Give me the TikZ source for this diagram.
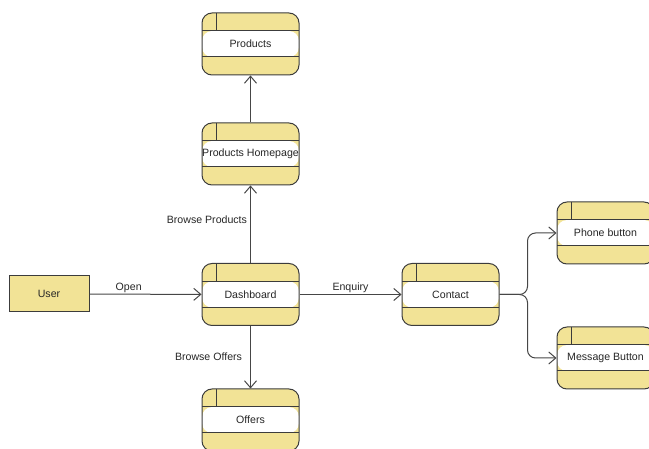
\documentclass[tikz,border=0pt]{standalone}
\usepackage{fontspec}
\setmainfont{Liberation Sans}
\usetikzlibrary{arrows.meta}

\definecolor{boxfill}{RGB}{242,227,150}
\definecolor{boxline}{RGB}{60,60,60}
\definecolor{flowline}{RGB}{70,70,70}

\tikzset{
  process/.style={draw=boxline, line width=1pt, fill=boxfill, rounded corners=10pt,
    minimum width=97pt, minimum height=62pt, inner sep=0pt,
    font=\fontsize{10.6}{12}\selectfont, text=black!85,
    path picture={
      \fill[white] ([yshift=-18pt]path picture bounding box.north west)
        rectangle ([yshift=18pt]path picture bounding box.south east);
      \draw[boxline, line width=1pt]
        ([yshift=-18pt]path picture bounding box.north west)
        -- ([yshift=-18pt]path picture bounding box.north east)
        ([yshift=18pt]path picture bounding box.south west)
        -- ([yshift=18pt]path picture bounding box.south east)
        ([xshift=14pt]path picture bounding box.north west)
        -- ([xshift=14pt,yshift=-18pt]path picture bounding box.north west);
    }},
  entity/.style={draw=boxline, line width=1pt, fill=boxfill,
    minimum width=80pt, minimum height=36pt, inner sep=0pt,
    font=\fontsize{10.6}{12}\selectfont, text=black!85},
  flow/.style={draw=flowline, line width=1pt, -{Straight Barb[length=7pt,width=12pt]}},
  flowlabel/.style={font=\fontsize{10.6}{12}\selectfont, text=black!85, inner sep=1pt}
}

\begin{document}
\begin{tikzpicture}[x=1pt, y=-1pt]
  \useasboundingbox (0,0) rectangle (649,449);

  \node[entity] (user) at (49,294) {User};
  \node[process] (products) at (250.5,44) {Products};
  \node[process] (homepage) at (250.5,154) {Products Homepage};
  \node[process] (dashboard) at (250.5,294.5) {Dashboard};
  \node[process] (offers) at (250.5,420) {Offers};
  \node[process] (contact) at (450.5,294.5) {Contact};
  \node[process] (phone) at (605.5,233) {Phone button};
  \node[process] (message) at (605.5,358) {Message Button};

  \draw[flow] (user) -- node[flowlabel, pos=0.35, above] {Open} (dashboard);
  \draw[flow] (dashboard) -- node[flowlabel, midway, above] {Enquiry} (contact);
  \draw[flow] (dashboard) -- node[flowlabel, pos=0.56, left=2pt] {Browse Products} (homepage);
  \draw[flow] (homepage) -- (products);
  \draw[flow] (dashboard) -- node[flowlabel, pos=0.49, left=7pt] {Browse Offers} (offers);
  \draw[flow, rounded corners=8pt] (contact.east) -- ++(28,0) |- (phone.west);
  \draw[flow, rounded corners=8pt] (contact.east) -- ++(28,0) |- (message.west);
\end{tikzpicture}
\end{document}
